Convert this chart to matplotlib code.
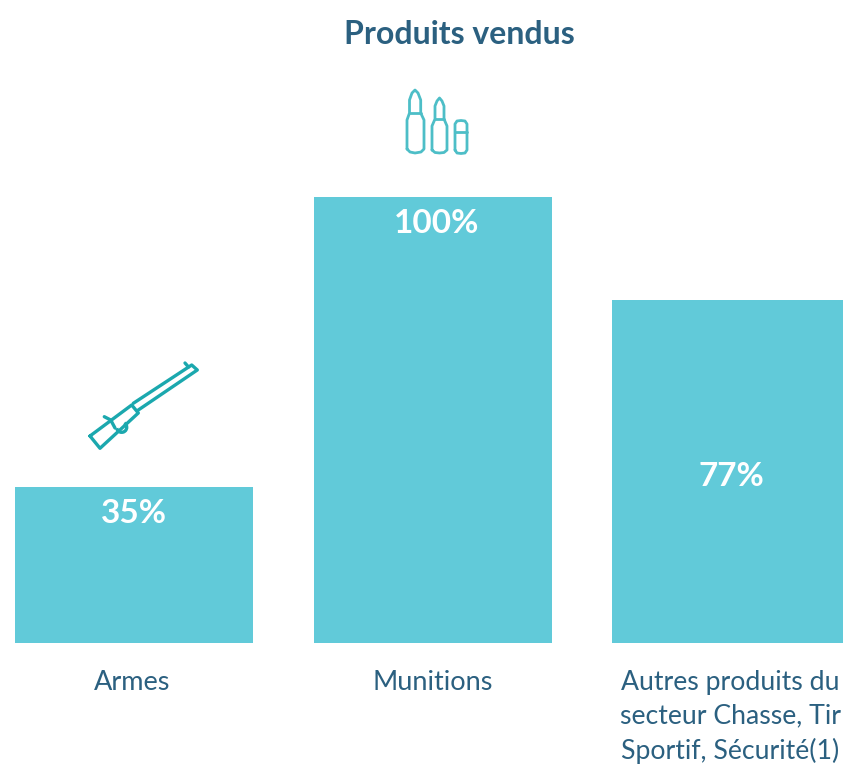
#!/usr/bin/python3

import numpy as np
import matplotlib.pyplot as plt
from matplotlib.patches import Arc

categories = ["Armes", "Munitions", "Autres produits du\nsecteur Chasse, Tir\nSportif, Sécurité(1)"]
values = [35, 100, 77]
value_labels = ["35%", "100%", "77%"]
title = "Produits vendus"

BAR = "#61CAD9"
TEXT = "#2B6080"
RIFLE = "#1BA8AE"
BULLET = "#4DBEC7"

W, H = 843, 767
fig = plt.figure(figsize=(W / 100, H / 100), dpi=100)
plt.rcParams["font.family"] = ["Lato", "DejaVu Sans"]

# one category = 298.5 px, one percent = 4.46 px
ax = fig.add_axes([0, 0, 1, 1])
ax.set_xlim(-134 / 298.5, (W - 134) / 298.5)
ax.set_ylim(-(H - 643) / 4.46, 643 / 4.46)
ax.axis("off")

x = np.arange(len(values))
ax.bar(x, values, width=238 / 298.5, color=BAR)

# labels inside the bars: the short ones sit at the top, 77% in the middle
label_x = [x[0], x[1] + 0.015, x[2]]
label_y = [values[0] - 6, values[1] - 6, values[2] / 2 - 1.1]
for xi, yi, lab in zip(label_x, label_y, value_labels):
    ax.text(xi, yi, lab, color="white", fontsize=24, fontweight="bold", ha="center", va="center")

ax.text(x[0] - 0.008, -8.8, categories[0], color=TEXT, fontsize=19.5, ha="center", va="center")
ax.text(x[1], -8.8, categories[1], color=TEXT, fontsize=19.5, ha="center", va="center")
ax.text(x[2] - 0.003, -16.6, categories[2], color=TEXT, fontsize=19.2, ha="center", va="center", linespacing=1.45)

fig.text(459 / W, 1 - 34 / H, title, color=TEXT, fontsize=23, fontweight="bold", ha="center", va="center")

# icons, drawn in pixel coordinates on a second axes
icons = fig.add_axes([0, 0, 1, 1])
icons.set_xlim(0, W)
icons.set_ylim(H, 0)
icons.axis("off")
icons.patch.set_alpha(0)


def stroke(xs, ys, color, lw=2.0):
    icons.plot(xs, ys, color=color, lw=lw, solid_joinstyle="round", solid_capstyle="round")


# bullets
stroke([407, 407, 409.5, 409.5, 412, 415, 418, 420.7, 420.7, 424, 424, 421, 415, 410, 407],
       [149, 120, 113, 100, 93, 90, 93, 100, 113, 120, 149, 152, 153, 152, 149], BULLET)
stroke([409.5, 420.7], [113, 113], BULLET)
stroke([432, 432, 435, 435, 437, 439.5, 442, 444, 444, 447, 447, 444, 439.5, 435, 432],
       [150, 126, 119, 106, 101, 98, 101, 106, 119, 126, 150, 152.5, 153, 152.5, 150], BULLET)
stroke([435, 444], [119, 119], BULLET)
stroke([455, 455, 457, 461, 465, 467, 467, 465, 461, 457, 455],
       [150, 124, 121, 120.5, 121, 124, 150, 153, 153.5, 153, 150], BULLET)
stroke([455, 467], [131.5, 131.5], BULLET)

# rifle
stroke([90, 131.7, 138.3, 100, 90], [436, 405, 413, 448.3, 436], RIFLE, 2.4)
stroke([133.3, 191.7, 197.3, 138.3], [403.3, 365, 370, 410], RIFLE, 2.4)
stroke([104.3, 110.7, 115], [416.7, 420, 428], RIFLE, 2.4)
stroke([185, 188.5], [363, 367], RIFLE, 2.4)
icons.add_patch(Arc((121.7, 427.3), 10, 10, theta1=-60, theta2=170, color=RIFLE, lw=2.4))

fig.savefig("out.png", dpi=100)
